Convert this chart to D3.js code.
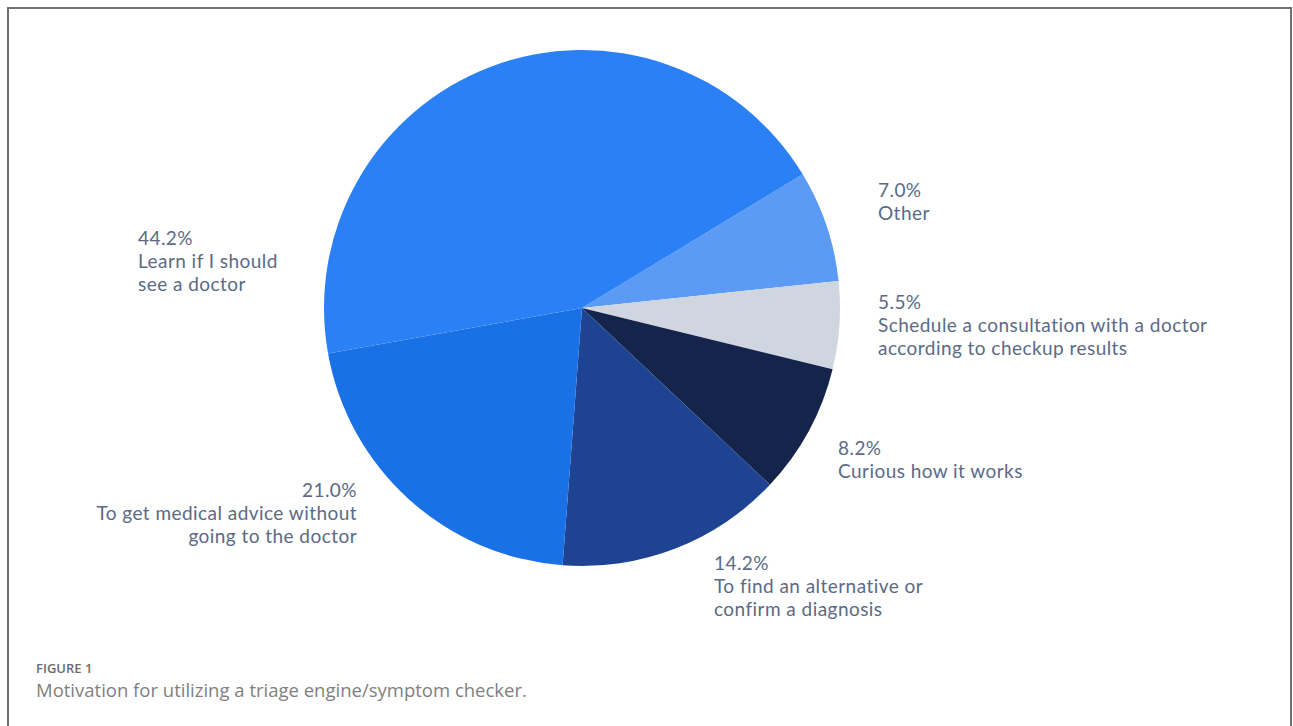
<!DOCTYPE html>
<html lang="en">
<head>
<meta charset="utf-8">
<title>Figure 1</title>
<script src="https://cdn.jsdelivr.net/npm/d3@7"></script>
<style>
  html, body { margin: 0; padding: 0; background: #fff; }
  svg { display: block; }
  .lbl { font-family: Lato, "Open Sans", sans-serif; font-size: 19px; letter-spacing: 0.45px; fill: #5b6a86; }
</style>
</head>
<body>
<script>
// categories, clockwise starting at the "Other" slice
var categories = ["Other",
  "Schedule a consultation with a doctor according to checkup results",
  "Curious how it works",
  "To find an alternative or confirm a diagnosis",
  "To get medical advice without going to the doctor",
  "Learn if I should see a doctor"];
var values = [7.0, 5.5, 8.2, 14.2, 21.0, 44.2];
var labelLines = [
  ["Other"],
  ["Schedule a consultation with a doctor", "according to checkup results"],
  ["Curious how it works"],
  ["To find an alternative or", "confirm a diagnosis"],
  ["To get medical advice without", "going to the doctor"],
  ["Learn if I should", "see a doctor"]
];
var colors = ["#5b9bf6", "#cfd6e0", "#14244b", "#1e4392", "#1a71e5", "#2b80f6"];

// label anchors (layout only)
var labelPos = [
  {x: 878, y: 197, anchor: "start"},
  {x: 878, y: 309, anchor: "start"},
  {x: 838, y: 455, anchor: "start"},
  {x: 714, y: 570, anchor: "start"},
  {x: 357, y: 497, anchor: "end"},
  {x: 138, y: 245, anchor: "start"}
];

var W = 1293, H = 726;
var cx = 582, cy = 308, R = 258;
var start = 58.8 * Math.PI / 180;

var svg = d3.select("body").append("svg").attr("width", W).attr("height", H);

// frame
svg.append("rect")
  .attr("x", 8).attr("y", 8).attr("width", 1283).attr("height", 740)
  .attr("fill", "none").attr("stroke", "#6f6f6f").attr("stroke-width", 2);

var data = values.map(function(v, i) {
  return {name: categories[i], value: v, lines: labelLines[i], color: colors[i], pos: labelPos[i]};
});

var pie = d3.pie().sort(null).value(function(d) { return d.value; })
  .startAngle(start).endAngle(start + 2 * Math.PI);
var arc = d3.arc().innerRadius(0).outerRadius(R);

var g = svg.append("g").attr("transform", "translate(" + cx + "," + cy + ")");
g.selectAll("path")
  .data(pie(data))
  .enter()
  .append("path")
  .attr("d", arc)
  .attr("fill", function(d) { return d.data.color; });

// one text element per label line
var fmt = d3.format(".1f");
var lineH = 23;
data.forEach(function(d) {
  var rows = [fmt(d.value) + "%"].concat(d.lines);
  svg.selectAll(null)
    .data(rows)
    .enter()
    .append("text")
    .attr("class", "lbl")
    .attr("text-anchor", d.pos.anchor)
    .attr("x", d.pos.x)
    .attr("y", function(r, j) { return d.pos.y + lineH * j; })
    .text(function(r) { return r; });
});

// caption
svg.append("text")
  .attr("x", 36).attr("y", 673)
  .style("font-family", "'Open Sans', sans-serif")
  .style("font-size", "13px").style("font-weight", "600")
  .style("fill", "#6b6b6b")
  .text("FIGURE 1");
svg.append("text")
  .attr("x", 36).attr("y", 697)
  .style("font-family", "'Open Sans', sans-serif")
  .style("font-size", "18.5px")
  .style("fill", "#808080")
  .text("Motivation for utilizing a triage engine/symptom checker.");
</script>
</body>
</html>
